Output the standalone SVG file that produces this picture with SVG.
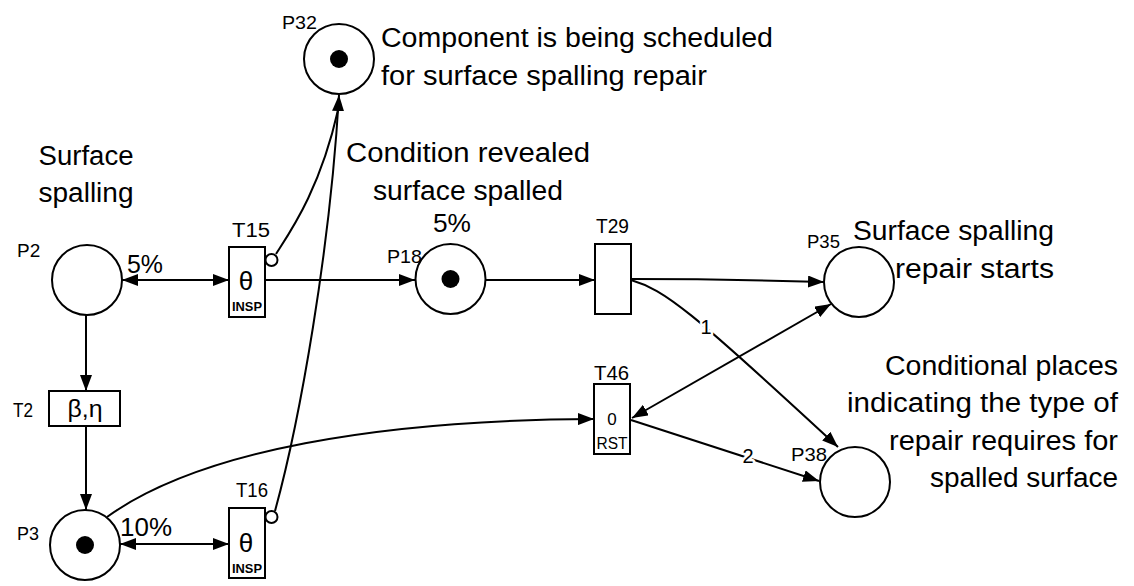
<svg xmlns="http://www.w3.org/2000/svg" width="1134" height="586" viewBox="0 0 1134 586">
<style>
text{font-family:"Liberation Sans",Arial,sans-serif;fill:#000}
.big{font-size:27px}
.pct{font-size:26px}
.pl{font-size:19px}
.tl{font-size:20px}
.place{fill:#fff;stroke:#000;stroke-width:2}
.tok{fill:#000}
.tr{fill:#fff;stroke:#000;stroke-width:2}
.arc{fill:none;stroke:#000;stroke-width:2}
.inh{fill:#fff;stroke:#000;stroke-width:2}
.lbl{font-size:20px;stroke:#fff;stroke-width:5px;paint-order:stroke;stroke-linejoin:round}
.insp{font-size:13px;font-weight:bold}
</style>
<defs>
<marker id="ah" viewBox="0 0 16 12" refX="16" refY="6" markerWidth="16" markerHeight="12" markerUnits="userSpaceOnUse" orient="auto-start-reverse">
<path d="M0,0 L16,6 L0,12 z" fill="#000"/>
</marker>
</defs>

<g id="connectors">
<line class="arc" x1="122" y1="280" x2="229" y2="280" marker-start="url(#ah)" marker-end="url(#ah)"/>
<line class="arc" x1="265" y1="280" x2="415" y2="280" marker-end="url(#ah)"/>
<line class="arc" x1="486" y1="280" x2="595" y2="280" marker-end="url(#ah)"/>
<line class="arc" x1="86" y1="315" x2="86" y2="391" marker-end="url(#ah)"/>
<line class="arc" x1="86" y1="426" x2="86" y2="510" marker-end="url(#ah)"/>
<line class="arc" x1="120" y1="544" x2="229" y2="544" marker-start="url(#ah)" marker-end="url(#ah)"/>
<path class="arc" d="M276,254 C290,232 320,190 338,110"/>
<path class="arc" d="M275,511 C300,420 330,250 339,95" marker-end="url(#ah)"/>
<path class="arc" d="M107,517 C200,450 380,420 594,419" marker-end="url(#ah)"/>
<path class="arc" d="M631,279 C700,279 760,280 824,282" marker-end="url(#ah)"/>
<path class="arc" d="M631,280 C665,290 690,310 838,447" marker-end="url(#ah)"/>
<line class="arc" x1="632" y1="418" x2="831" y2="304" marker-start="url(#ah)" marker-end="url(#ah)"/>
<line class="arc" x1="631" y1="420" x2="819" y2="481" marker-end="url(#ah)"/>
<text class="lbl" x="706" y="334" text-anchor="middle">1</text>
<text class="lbl" x="748" y="463" text-anchor="middle">2</text>
</g>

<g id="P2">
<circle class="place" cx="87" cy="280" r="35"/>
<text class="pl" x="17" y="257">P2</text>
<text class="pct" x="127" y="273" textLength="36" lengthAdjust="spacingAndGlyphs">5%</text>
<text class="big" x="86" y="165" text-anchor="middle" textLength="95" lengthAdjust="spacingAndGlyphs">Surface</text>
<text class="big" x="86" y="202" text-anchor="middle" textLength="95" lengthAdjust="spacingAndGlyphs">spalling</text>
</g>

<g id="T15">
<rect class="tr" x="229" y="247" width="36" height="70"/>
<circle class="inh" cx="271.5" cy="260" r="6"/>
<text class="tl" x="251" y="237" text-anchor="middle" textLength="38" lengthAdjust="spacingAndGlyphs">T15</text>
<text x="246" y="290" font-size="26" text-anchor="middle">θ</text>
<text class="insp" x="247" y="311" text-anchor="middle" textLength="30" lengthAdjust="spacingAndGlyphs">INSP</text>
</g>

<g id="P18">
<circle class="place" cx="450.5" cy="279" r="35"/>
<circle class="tok" cx="450.5" cy="279" r="9"/>
<text class="pl" x="387" y="263" textLength="35" lengthAdjust="spacingAndGlyphs">P18</text>
<text class="pct" x="433" y="232" textLength="38" lengthAdjust="spacingAndGlyphs">5%</text>
<text class="big" x="346" y="162" textLength="244" lengthAdjust="spacingAndGlyphs">Condition revealed</text>
<text class="big" x="373" y="200" textLength="190" lengthAdjust="spacingAndGlyphs">surface spalled</text>
</g>

<g id="P32">
<circle class="place" cx="339" cy="59" r="35"/>
<circle class="tok" cx="339" cy="59" r="9"/>
<text class="pl" x="282" y="29" textLength="35" lengthAdjust="spacingAndGlyphs">P32</text>
<text class="big" x="381" y="47" textLength="392" lengthAdjust="spacingAndGlyphs">Component is being scheduled</text>
<text class="big" x="381" y="85" textLength="326" lengthAdjust="spacingAndGlyphs">for surface spalling repair</text>
</g>

<g id="T29">
<rect class="tr" x="595" y="244" width="36" height="70"/>
<text class="tl" x="596" y="233" textLength="33" lengthAdjust="spacingAndGlyphs">T29</text>
</g>

<g id="P35">
<circle class="place" cx="859" cy="282" r="35"/>
<text class="pl" x="807" y="248" textLength="33" lengthAdjust="spacingAndGlyphs">P35</text>
<text class="big" x="853" y="240" textLength="201" lengthAdjust="spacingAndGlyphs">Surface spalling</text>
<text class="big" x="895" y="278" textLength="159" lengthAdjust="spacingAndGlyphs">repair starts</text>
</g>

<g id="T2">
<rect class="tr" x="49" y="391" width="71" height="35"/>
<text class="tl" x="13" y="417" textLength="20" lengthAdjust="spacingAndGlyphs">T2</text>
<text x="85" y="417" font-size="24" text-anchor="middle" textLength="35" lengthAdjust="spacingAndGlyphs">β,η</text>
</g>

<g id="T46">
<rect class="tr" x="594" y="384" width="36" height="70"/>
<text class="tl" x="594" y="380" textLength="35" lengthAdjust="spacingAndGlyphs">T46</text>
<text x="612" y="425" font-size="17" text-anchor="middle">0</text>
<text x="612" y="449" font-size="16" text-anchor="middle" textLength="31" lengthAdjust="spacingAndGlyphs">RST</text>
</g>

<g id="P38">
<circle class="place" cx="855" cy="482" r="35"/>
<text class="pl" x="791" y="461" textLength="36" lengthAdjust="spacingAndGlyphs">P38</text>
<text class="big" x="1118" y="375" text-anchor="end" textLength="233" lengthAdjust="spacingAndGlyphs">Conditional places</text>
<text class="big" x="1118" y="412" text-anchor="end" textLength="271" lengthAdjust="spacingAndGlyphs">indicating the type of</text>
<text class="big" x="1118" y="450" text-anchor="end" textLength="229" lengthAdjust="spacingAndGlyphs">repair requires for</text>
<text class="big" x="1118" y="487" text-anchor="end" textLength="188" lengthAdjust="spacingAndGlyphs">spalled surface</text>
</g>

<g id="P3">
<circle class="place" cx="85" cy="545" r="35"/>
<circle class="tok" cx="85" cy="545" r="9"/>
<text class="pl" x="17" y="540" textLength="22" lengthAdjust="spacingAndGlyphs">P3</text>
<text class="pct" x="120" y="536" textLength="52" lengthAdjust="spacingAndGlyphs">10%</text>
</g>

<g id="T16">
<rect class="tr" x="229" y="508" width="36" height="70"/>
<circle class="inh" cx="271.5" cy="517" r="6"/>
<text class="tl" x="252" y="497" text-anchor="middle" textLength="32" lengthAdjust="spacingAndGlyphs">T16</text>
<text x="246" y="552" font-size="26" text-anchor="middle">θ</text>
<text class="insp" x="247" y="573" text-anchor="middle" textLength="30" lengthAdjust="spacingAndGlyphs">INSP</text>
</g>
</svg>
